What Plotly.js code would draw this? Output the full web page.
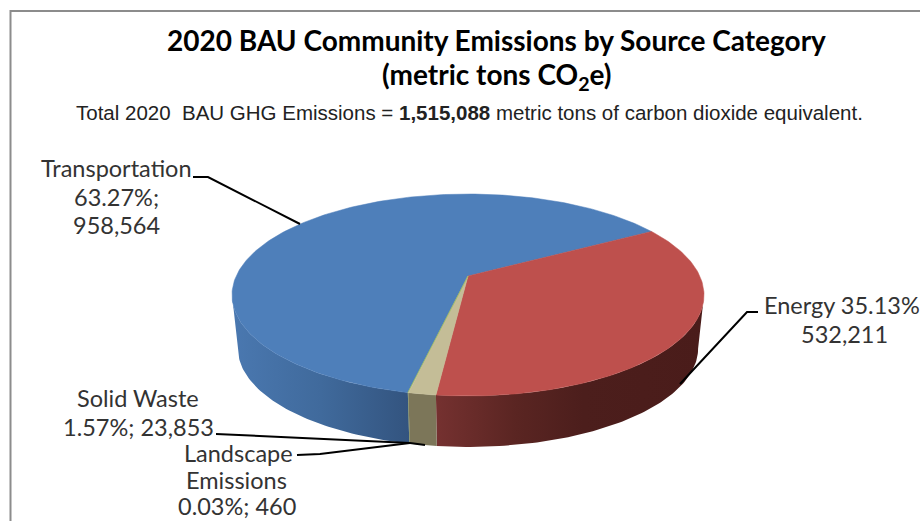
<!DOCTYPE html>
<html>
<head>
<meta charset="utf-8">
<script src="https://cdn.plot.ly/plotly-3.0.1.min.js"></script>
<style>html,body{margin:0;padding:0;background:#fff}#chart{width:920px;height:521px}</style>
</head>
<body>
<div id="chart"></div>
<script>
// ---- data ----
const categories = ["Energy", "Solid Waste", "Landscape Emissions", "Transportation"];
const emissions = [532211, 23853, 460, 958564];
const percents = ["35.13%", "1.57%", "0.03%", "63.27%"];
const sliceColors = ["#be504d", "#c4bd97", "#9bbb59", "#4e7fba"];
const wallColors = [
  [[0, "#753130"], [0.3, "#5a2522"], [0.55, "#4c1e1c"], [1, "#4a1c1a"]],
  [[0, "#7c7659"], [1, "#7c7659"]],
  [[0, "#5d7035"], [1, "#5d7035"]],
  [[0, "#4a78b0"], [0.5, "#406a9c"], [1, "#33547f"]]
];
const titleLines = ["2020 BAU Community Emissions by Source Category", "(metric tons CO<sub>2</sub>e)"];
const subtitle = "Total 2020  BAU GHG Emissions = <b>1,515,088</b> metric tons of carbon dioxide equivalent.";

// ---- pie projection (perspective view of a circle) ----
const apex = {x: 468, y: 276}, Ax = 231.8, B = 97.4, p = 0.188;
const startDeg = 60, wallScale = 0.975, wallDrop = 54;
const total = emissions.reduce((a, b) => a + b, 0);
// angles at which the projected ellipse reaches its right and left extremes
const rightExtreme = Math.acos(-p) * 180 / Math.PI, leftExtreme = 360 - rightExtreme;

function project(deg, base) {
  const r = deg * Math.PI / 180, u = Math.sin(r), v = Math.cos(r), w = 1 + p * v;
  const s = base ? wallScale : 1, d = base ? wallDrop : 0;
  return [apex.x + s * Ax * u / w, apex.y - s * B * v / w + d];
}
function arc(a, b, base) {
  const pts = [], n = Math.max(2, Math.ceil(Math.abs(b - a)));
  for (let i = 0; i <= n; i++) pts.push(project(a + (b - a) * i / n, base));
  return pts;
}
const traces = [];
let angle = startDeg;
const spans = emissions.map(v => { const s = [angle, angle + v / total * 360]; angle = s[1]; return s; });

// side walls: only the part facing the viewer
[3, 0, 1, 2].forEach(i => {
  const a = Math.max(spans[i][0], rightExtreme), b = Math.min(spans[i][1], leftExtreme);
  const top = arc(a, b, false), bot = arc(a, b, true).reverse();
  const pts = top.concat(bot); pts.push(pts[0]);
  traces.push({
    type: "scatter", mode: "lines", x: pts.map(q => q[0]), y: pts.map(q => q[1]),
    fill: "toself", line: {width: 0, color: wallColors[i][0][1]},
    fillgradient: {type: "horizontal", colorscale: wallColors[i]},
    hoverinfo: "skip", showlegend: false
  });
});
// top faces
[3, 0, 1, 2].forEach(i => {
  const pts = [[apex.x, apex.y]].concat(arc(spans[i][0], spans[i][1], false));
  pts.push([apex.x, apex.y]);
  traces.push({
    type: "scatter", mode: "lines", x: pts.map(q => q[0]), y: pts.map(q => q[1]),
    fill: "toself", fillcolor: sliceColors[i], line: {width: 0.5, color: sliceColors[i]},
    name: categories[i], text: categories[i] + " " + percents[i], hoverinfo: "text", showlegend: false
  });
});

// leader lines
const leaders = [
  {x: [193, 208, 300], y: [177, 177, 224]},
  {x: [680, 747, 758], y: [384, 312, 312]},
  {x: [216, 410, 425], y: [434, 443, 445]},
  {x: [297, 320, 410], y: [455, 454, 443]}
];
leaders.forEach(l => traces.push({
  type: "scatter", mode: "lines", x: l.x, y: l.y,
  line: {color: "#000", width: 2}, hoverinfo: "skip", showlegend: false
}));

const fmt = n => n.toLocaleString("en-US");
const labelFont = {family: "Lato, sans-serif", size: 23.5, color: "#333"};
function note(text, x, y, font) {
  return {text, x, y, xref: "x", yref: "y", showarrow: false, xanchor: "center", yanchor: "middle", font, align: "center"};
}
const titleFont = {family: "Lato, sans-serif", size: 28, color: "#000"};
const annotations = [
  note("<b>" + titleLines[0] + "</b>", 496, 40, titleFont),
  note("<b>" + titleLines[1] + "</b>", 497, 76, titleFont),
  note(subtitle, 469, 112, {family: "Liberation Sans, Arial, sans-serif", size: 20.5, color: "#222"}),
  note(categories[3], 116, 168, labelFont),
  note(percents[3] + ";", 116, 197, labelFont),
  note(fmt(emissions[3]), 116, 225, labelFont),
  note(categories[0] + " " + percents[0], 842, 305, labelFont),
  note(fmt(emissions[0]), 844, 334, labelFont),
  note(categories[1], 138, 398, labelFont),
  note(percents[1] + "; " + fmt(emissions[1]), 138, 427, labelFont),
  note(categories[2].split(" ")[0], 238, 453, labelFont),
  note(categories[2].split(" ")[1], 236, 480, labelFont),
  note(percents[2] + "; " + fmt(emissions[2]), 237, 505.5, labelFont)
];

const layout = {
  width: 920, height: 521, margin: {l: 0, r: 0, t: 0, b: 0},
  paper_bgcolor: "#fff", plot_bgcolor: "#fff",
  xaxis: {range: [0, 920], visible: false, fixedrange: true},
  yaxis: {range: [521, 0], visible: false, fixedrange: true},
  annotations,
  shapes: [
    {type: "line", xref: "x", yref: "y", x0: 10.5, x1: 920, y0: 11, y1: 11, line: {color: "#8c8c8c", width: 2}},
    {type: "line", xref: "x", yref: "y", x0: 10.5, x1: 10.5, y0: 10, y1: 521, line: {color: "#8c8c8c", width: 2}}
  ]
};
Plotly.newPlot("chart", traces, layout, {displayModeBar: false});
</script>
</body>
</html>
